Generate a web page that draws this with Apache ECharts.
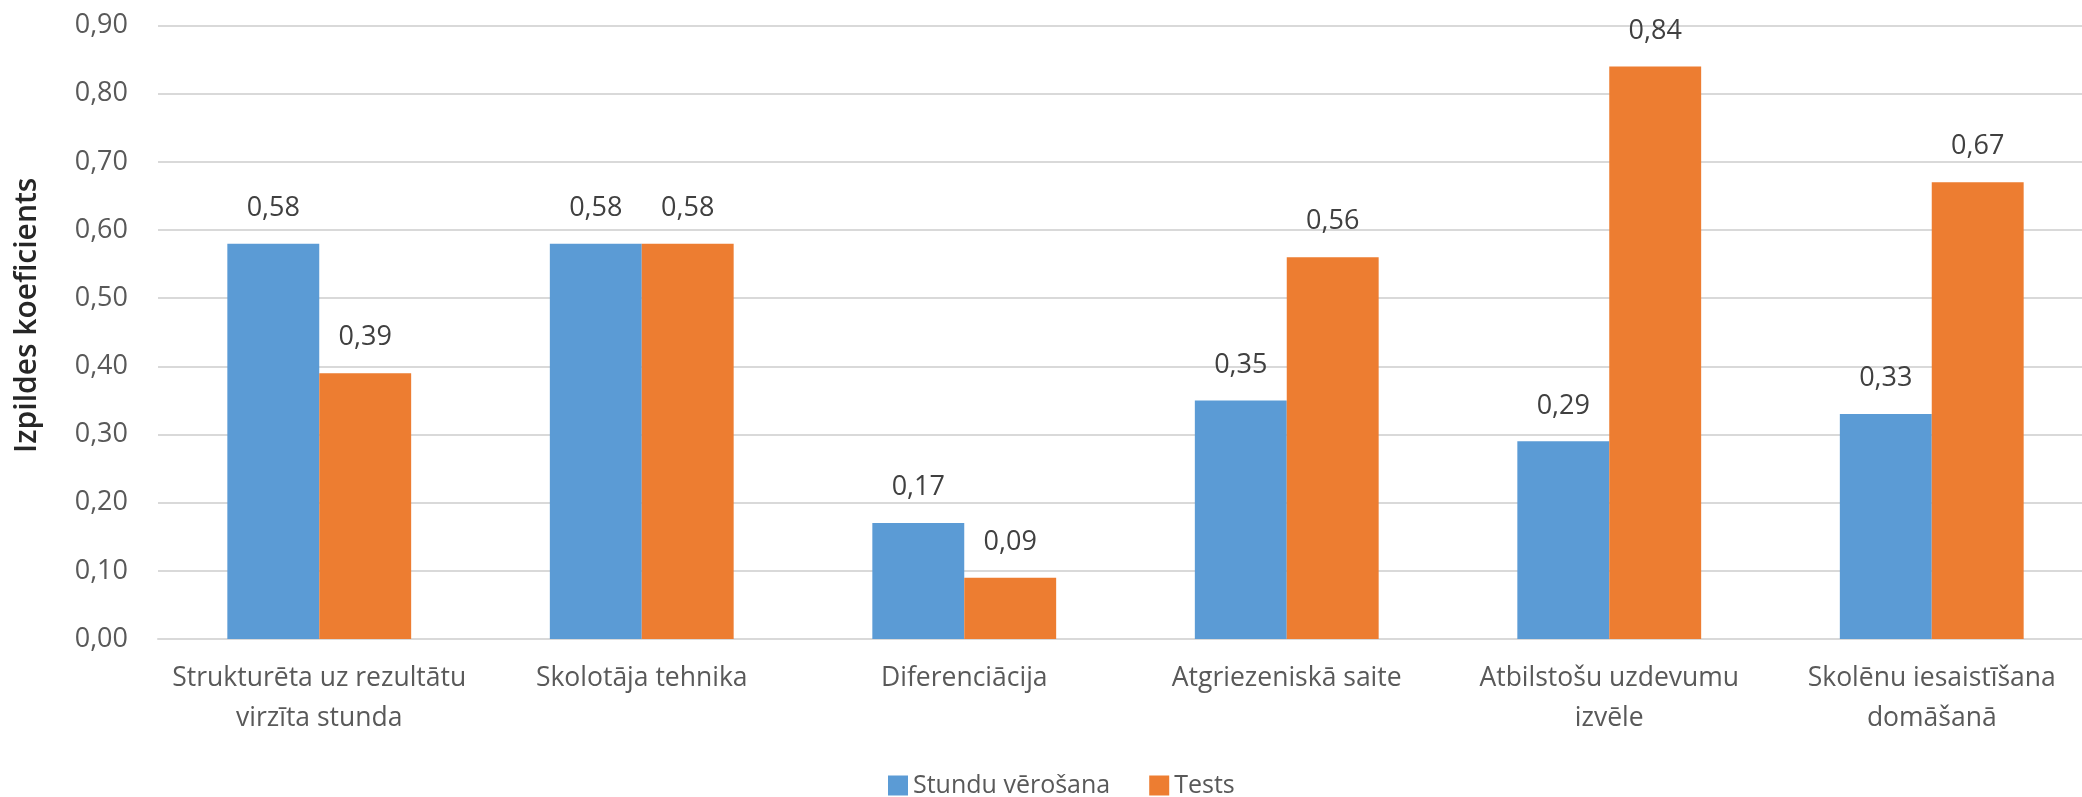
<!DOCTYPE html>
<html>
<head>
<meta charset="utf-8">
<script src="https://cdn.jsdelivr.net/npm/echarts@6/dist/echarts.min.js"></script>
<style>
html,body{margin:0;padding:0;background:#fff;}
#c{width:2082px;height:797px;}
</style>
</head>
<body>
<div id="c"></div>
<script>
const categories = [
  'Strukturēta uz rezultātu\nvirzīta stunda',
  'Skolotāja tehnika',
  'Diferenciācija',
  'Atgriezeniskā saite',
  'Atbilstošu uzdevumu\nizvēle',
  'Skolēnu iesaistīšana\ndomāšanā'
];
const seriesNames = ['Stundu vērošana', 'Tests'];
const stunduVerosana = [0.58, 0.58, 0.17, 0.35, 0.29, 0.33];
const tests = [0.39, 0.58, 0.09, 0.56, 0.84, 0.67];
const yTicks = { min: 0, max: 0.9, interval: 0.1 };
const axisTitle = 'Izpildes koeficients';

const FONT = 'Open Sans';
const fmt = v => Number(v).toFixed(2).replace('.', ',');

const chart = echarts.init(document.getElementById('c'), null, { renderer: 'canvas' });
const labelCfg = {
  show: true,
  position: 'top',
  distance: 22,
  color: '#404040',
  fontFamily: FONT,
  fontSize: 27,
  formatter: p => fmt(p.value)
};
chart.setOption({
  animation: false,
  backgroundColor: '#ffffff',
  textStyle: { fontFamily: FONT },
  grid: { left: 158, top: 25.5, width: 1935, height: 613.5, containLabel: false, outerBoundsMode: 'none' },
  legend: {
    left: 883,
    top: 768,
    itemWidth: 20,
    itemHeight: 20,
    itemGap: 39,
    icon: 'rect',
    textStyle: { fontFamily: FONT, fontSize: 25, color: '#595959' },
    data: seriesNames
  },
  xAxis: {
    type: 'category',
    data: categories,
    axisTick: { show: false },
    axisLine: { lineStyle: { color: '#d9d9d9', width: 2 } },
    axisLabel: {
      color: '#595959',
      fontFamily: FONT,
      fontSize: 26.5,
      lineHeight: 40,
      margin: 19,
      interval: 0
    }
  },
  yAxis: {
    type: 'value',
    min: yTicks.min,
    max: yTicks.max,
    interval: yTicks.interval,
    name: axisTitle,
    nameLocation: 'middle',
    nameRotate: 90,
    nameGap: 116,
    nameTextStyle: { color: '#262626', fontFamily: FONT, fontSize: 30, fontWeight: 600, padding: [0, 0, 0, 34] },
    axisLine: { show: false },
    axisTick: { show: false },
    splitLine: { lineStyle: { color: '#d9d9d9', width: 2 } },
    axisLabel: {
      color: '#595959',
      fontFamily: FONT,
      fontSize: 27,
      margin: 30,
      formatter: v => fmt(v)
    }
  },
  series: [
    {
      name: seriesNames[0],
      type: 'bar',
      data: stunduVerosana,
      barGap: '0%',
      barCategoryGap: '43%',
      itemStyle: { color: '#5B9BD5' },
      label: labelCfg
    },
    {
      name: seriesNames[1],
      type: 'bar',
      data: tests,
      barGap: '0%',
      barCategoryGap: '43%',
      itemStyle: { color: '#ED7D31' },
      label: labelCfg
    }
  ]
});
</script>
</body>
</html>
